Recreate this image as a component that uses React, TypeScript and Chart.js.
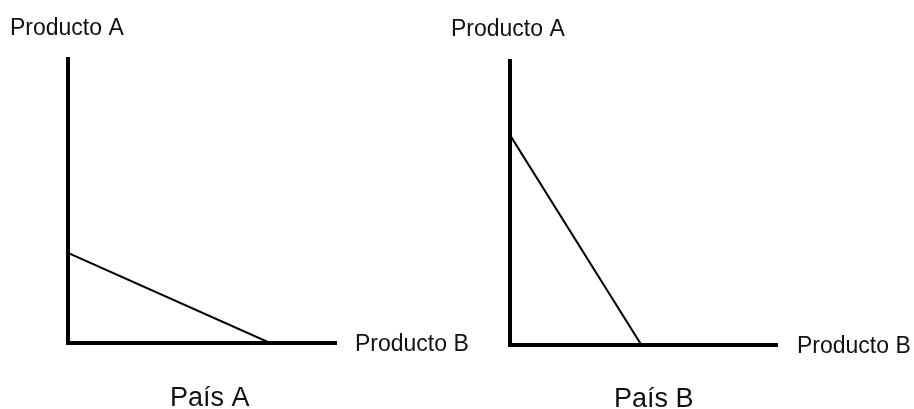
import React, { useEffect, useRef } from "react";
import { Chart, registerables } from "chart.js";

Chart.register(...registerables);

// Data (0–100 scale on each axis)
const countries = ["País A", "País B"];
const productoAIntercept = [31.7, 73.9]; // value on the vertical axis (Producto A)
const productoBIntercept = [75.4, 49.1]; // value on the horizontal axis (Producto B)
const yAxisLabel = "Producto A";
const xAxisLabel = "Producto B";

const W = 914;
const H = 409;
const FONT = '"Liberation Sans", Arial, sans-serif';

type Layout = {
  padding: { left: number; right: number; top: number; bottom: number };
  yLabel: [number, number];
  xLabel: [number, number];
  title: [number, number];
};

const layouts: Layout[] = [
  {
    padding: { left: 68, right: W - 336, top: 59, bottom: H - 343 },
    yLabel: [10, 35],
    xLabel: [355, 351],
    title: [170, 406],
  },
  {
    padding: { left: 510, right: W - 777, top: 61, bottom: H - 344.5 },
    yLabel: [451, 36],
    xLabel: [797, 352.5],
    title: [614, 406.5],
  },
];

function PPFChart({ index }: { index: number }) {
  const ref = useRef<HTMLCanvasElement | null>(null);
  useEffect(() => {
    if (!ref.current) return;
    const lay = layouts[index];
    const textPlugin = {
      id: "labels" + index,
      afterDraw(chart: any) {
        const ctx = chart.ctx;
        ctx.save();
        ctx.fillStyle = "#111";
        ctx.textAlign = "left";
        ctx.textBaseline = "alphabetic";
        ctx.font = `23px ${FONT}`;
        ctx.fillText(yAxisLabel, lay.yLabel[0], lay.yLabel[1]);
        ctx.fillText(xAxisLabel, lay.xLabel[0], lay.xLabel[1]);
        ctx.font = `27px ${FONT}`;
        ctx.fillText(countries[index], lay.title[0], lay.title[1]);
        ctx.restore();
      },
    };
    const axis = {
      type: "linear" as const,
      min: 0,
      max: 100,
      display: true,
      ticks: { display: false },
      grid: { display: false, drawTicks: false },
      border: { display: true, width: 4, color: "#000" },
    };
    const chart = new Chart(ref.current, {
      type: "scatter",
      data: {
        datasets: [
          {
            label: countries[index],
            data: [
              { x: 0, y: productoAIntercept[index] },
              { x: productoBIntercept[index], y: 0 },
            ],
            showLine: true,
            borderColor: "#000",
            borderWidth: 2,
            pointRadius: 0,
            fill: false,
          },
        ],
      },
      options: {
        responsive: false,
        animation: false,
        layout: { padding: lay.padding },
        plugins: {
          legend: { display: false },
          tooltip: { enabled: false },
          title: { display: false },
        },
        scales: { x: axis, y: axis },
      },
      plugins: [textPlugin],
    });
    return () => chart.destroy();
  }, [index]);
  return (
    <canvas
      ref={ref}
      width={W}
      height={H}
      style={{ position: "absolute", left: 0, top: 0, width: W, height: H }}
    />
  );
}

export default function App() {
  return (
    <div
      style={{
        position: "absolute",
        left: 0,
        top: 0,
        width: W,
        height: H,
        background: "#fff",
      }}
    >
      <PPFChart index={0} />
      <PPFChart index={1} />
    </div>
  );
}
